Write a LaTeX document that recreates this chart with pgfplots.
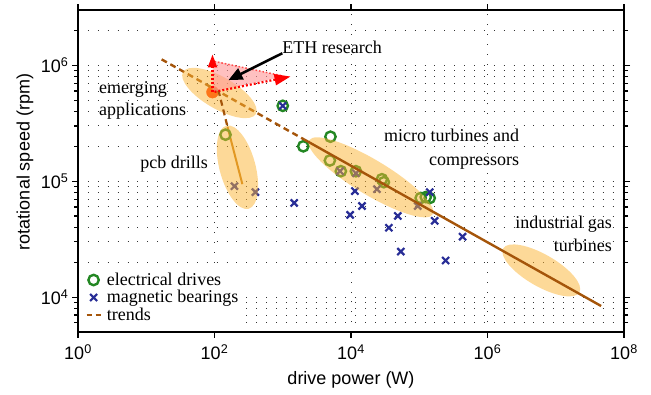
\documentclass[border=0pt]{standalone}
\usepackage{pgfplots}
\pgfplotsset{compat=1.18}
\usepackage{pgfplotstable}
\usepackage{fontspec}
\setmainfont{Liberation Serif}
\newfontfamily\sansf{Liberation Sans}
\usetikzlibrary{arrows.meta,shapes.geometric}

\definecolor{dgreen}{RGB}{35,135,35}
\definecolor{dblue}{RGB}{40,45,150}
\definecolor{trend}{RGB}{165,85,10}
\definecolor{trendlight}{RGB}{200,125,20}
\definecolor{ell}{RGB}{252,180,50}
\definecolor{ethred}{RGB}{255,55,0}
\definecolor{pinkish}{RGB}{255,150,150}

\pgfplotstableread{
x y
1000 4.47e5
5000 2.42e5
2000 2.0e5
145 2.52e5
4900 1.51e5
7100 1.22e5
11800 1.22e5
28400 1.04e5
30300 0.98e5
105000 71600
124500 73000
142300 71600
}\drives

\pgfplotstableread{
x y
1000 4.47e5
1470 64900
11400 82200
14500 61100
9700 51200
48500 50200
35900 39700
53700 24700
142300 80500
168400 45500
243700 20700
431500 33200
6900 1.22e5
11800 1.17e5
24000 85400
95100 61100
196 90600
397 80500
}\bearings

\begin{document}
\begin{tikzpicture}
\begin{axis}[
  set layers,
  xmode=log, ymode=log,
  scale only axis, width=546pt, height=322pt,
  xmin=1, xmax=1e8, ymin=5000, ymax=3e6,
  xtick={1,100,1e4,1e6,1e8},
  xticklabels={10\textsuperscript{0},10\textsuperscript{2},10\textsuperscript{4},10\textsuperscript{6},10\textsuperscript{8}},
  minor xtick={},
  ytick={1e4,1e5,1e6},
  yticklabels={10\textsuperscript{4},10\textsuperscript{5},10\textsuperscript{6}},
  minor ytick={6000,7000,8000,9000,20000,30000,40000,50000,60000,70000,80000,90000,2e5,3e5,4e5,5e5,6e5,7e5,8e5,9e5,2e6},
  xmajorgrids, ymajorgrids, yminorgrids,
  major grid style={black!80, line width=0.9pt, dash pattern=on 0.9pt off 9pt},
  minor grid style={black!80, line width=0.9pt, dash pattern=on 0.9pt off 9pt},
  tick align=outside,
  major tick length=6pt, minor tick length=4pt,
  tick style={black, line width=1.2pt},
  axis line style={line width=2pt},
  tick label style={font=\sansf\fontsize{18}{20}\selectfont},
  xticklabel style={yshift=-3pt},
  label style={font=\sansf\fontsize{18}{20}\selectfont},
  xlabel={drive power (W)}, ylabel={rotational speed (rpm)},
  xlabel style={at={(axis description cs:0.5,-0.149)}, anchor=center},
  ylabel style={at={(axis description cs:-0.097,0.528)}, anchor=center},
  legend style={at={(rel axis cs:0.004,0.19)}, anchor=north west, draw=none, fill=white,
    font=\fontsize{18}{20}\selectfont, inner sep=1pt, row sep=1.5pt,
    nodes={inner sep=1pt}},
  legend cell align=left,
]
\coordinate (BL) at (rel axis cs:0,0);
\coordinate (TR) at (rel axis cs:1,1);

% data points
\addplot[only marks, mark=o, mark size=5.2pt, dgreen, line width=2.4pt,
  legend image code/.code={\path (0pt,0pt) (22pt,0pt); \draw[mark repeat=2,mark phase=2] plot coordinates {(2pt,0pt)(11pt,0pt)(20pt,0pt)};}]
  table {\drives};
\addlegendentry{electrical drives}
\addplot[only marks, mark=x, mark size=5pt, dblue, line width=2.2pt,
  legend image code/.code={\path (0pt,0pt) (22pt,0pt); \draw[mark repeat=2,mark phase=2] plot coordinates {(2pt,0pt)(11pt,0pt)(20pt,0pt)};}]
  table {\bearings};
\addlegendentry{magnetic bearings}
\addplot[trend, line width=2.4pt, dash pattern=on 6pt off 4pt, on layer=axis foreground,
  legend image code/.code={\path (0pt,0pt) (22pt,0pt); \draw[dash pattern=on 5pt off 4pt] (4pt,0pt) -- (18pt,0pt);}]
  coordinates {(16.8,1.125e6) (2060,2.29e5)};
\addlegendentry{trends}

% ETH point
\addplot[only marks, mark=*, mark size=6pt, ethred, forget plot] coordinates {(93.5,5.87e5)};

% pcb solid trend (under ellipse)
\addplot[trendlight, line width=2pt, forget plot] coordinates {(155,2.95e5) (256,94300)};

% ellipses
\begin{pgfonlayer}{axis foreground}
\node[ellipse, fill=ell, fill opacity=0.5, inner sep=0pt, minimum width=84pt, minimum height=32pt, rotate=-30] at (axis cs:118,5.77e5) {};
\node[ellipse, fill=ell, fill opacity=0.5, inner sep=0pt, minimum width=86pt, minimum height=36pt, rotate=-75] at (axis cs:217,1.32e5) {};
\node[ellipse, fill=ell, fill opacity=0.5, inner sep=0pt, minimum width=144pt, minimum height=35pt, rotate=-31] at (axis cs:19600,1.08e5) {};
\node[ellipse, fill=ell, fill opacity=0.5, inner sep=0pt, minimum width=88pt, minimum height=32pt, rotate=-30] at (axis cs:6.14e6,17000) {};
\end{pgfonlayer}

% other trends
\addplot[trend, line width=2.4pt, on layer=axis foreground, forget plot] coordinates {(2060,2.29e5) (4.62e7,8380)};
\addplot[trend, line width=2.2pt, dash pattern=on 6pt off 4pt, on layer=axis foreground, forget plot] coordinates {(114,6.11e5) (155,2.95e5)};

% ETH research region and labels
\begin{pgfonlayer}{axis foreground}
\fill[pinkish, fill opacity=0.6] (axis cs:93.5,1.10e6) -- (axis cs:1052,8.05e5) -- (axis cs:93.5,5.87e5) -- cycle;
\draw[red!70, line width=1.5pt, dash pattern=on 1.5pt off 2pt] (axis cs:100,1.08e6) -- (axis cs:1000,8.1e5);
\draw[red, line width=2.2pt, dash pattern=on 2pt off 2pt, -{Triangle[length=13pt,width=9pt]}] (axis cs:93.5,5.87e5) -- (axis cs:93.5,1.24e6);
\draw[red, line width=2.2pt, dash pattern=on 2pt off 2pt, -{Triangle[length=16pt,width=11pt]}] (axis cs:100,5.9e5) -- (axis cs:1300,8.0e5);
\draw[black, line width=2.5pt, -{Triangle[length=14pt,width=12pt]}] (axis cs:984,1.27e6) -- (axis cs:160,7.45e5);

\node[anchor=west, inner sep=0pt, font=\fontsize{18}{22}\selectfont] at (axis cs:984,1.43e6) {ETH research};
\node[anchor=west, align=left, inner sep=0pt, font=\fontsize{18}{22}\selectfont] at (axis cs:2.03,5.0e5) {emerging\\applications};
\node[anchor=center, inner sep=0pt, font=\fontsize{18}{22}\selectfont] at (axis cs:25.6,1.40e5) {pcb drills};
\node[anchor=east, align=right, inner sep=0pt, font=\fontsize{18}{24}\selectfont] at (axis cs:2.93e6,1.88e5) {micro turbines and\\compressors};
\node[anchor=east, align=right, inner sep=0pt, font=\fontsize{18}{23}\selectfont] at (axis cs:6.68e7,34900) {industrial gas\\turbines};
\end{pgfonlayer}
\end{axis}
\pgfresetboundingbox
\path[use as bounding box] ([xshift=-78pt,yshift=-62pt]BL) rectangle ([xshift=27pt,yshift=10pt]TR);
\end{tikzpicture}
\end{document}
